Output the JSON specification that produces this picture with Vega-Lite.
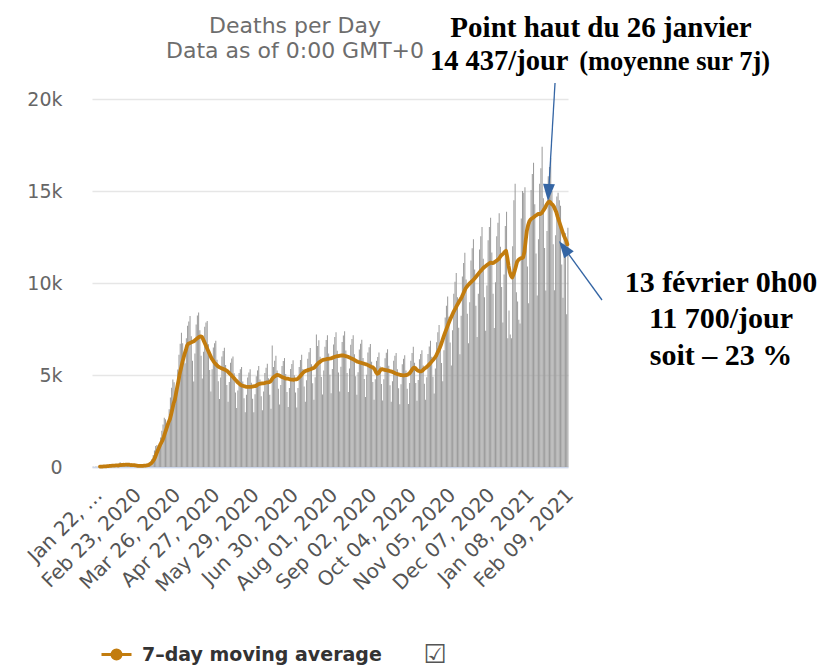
{
"$schema": "https://vega.github.io/schema/vega-lite/v6.json",
"width": 476, "height": 368,
"autosize": {"type": "none"},
"padding": {"left": 92, "top": 99, "right": 272, "bottom": 201},
"background": "white",
"config": {"view": {"stroke": null}, "font": "DejaVu Sans"},
"data": {"values": [
{"date":"2020-01-22","deaths":17,"avg":null},{"date":"2020-01-23","deaths":1,"avg":null},{"date":"2020-01-24","deaths":8,"avg":null},{"date":"2020-01-25","deaths":16,"avg":null},{"date":"2020-01-26","deaths":14,"avg":null},{"date":"2020-01-27","deaths":26,"avg":null},{"date":"2020-01-28","deaths":49,"avg":19},{"date":"2020-01-29","deaths":2,"avg":23},{"date":"2020-01-30","deaths":38,"avg":25},{"date":"2020-01-31","deaths":42,"avg":30},
{"date":"2020-02-01","deaths":46,"avg":32},{"date":"2020-02-02","deaths":103,"avg":37},{"date":"2020-02-03","deaths":64,"avg":46},{"date":"2020-02-04","deaths":66,"avg":53},{"date":"2020-02-05","deaths":72,"avg":60},{"date":"2020-02-06","deaths":70,"avg":66},{"date":"2020-02-07","deaths":85,"avg":73},{"date":"2020-02-08","deaths":87,"avg":76},{"date":"2020-02-09","deaths":100,"avg":80},{"date":"2020-02-10","deaths":107,"avg":85},{"date":"2020-02-11","deaths":100,"avg":90},{"date":"2020-02-12","deaths":5,"avg":78},{"date":"2020-02-13","deaths":253,"avg":102},{"date":"2020-02-14","deaths":152,"avg":108},{"date":"2020-02-15","deaths":143,"avg":116},{"date":"2020-02-16","deaths":104,"avg":121},{"date":"2020-02-17","deaths":98,"avg":120},{"date":"2020-02-18","deaths":139,"avg":125},{"date":"2020-02-19","deaths":115,"avg":127},{"date":"2020-02-20","deaths":125,"avg":124},{"date":"2020-02-21","deaths":4,"avg":122},{"date":"2020-02-22","deaths":207,"avg":99},{"date":"2020-02-23","deaths":11,"avg":108},{"date":"2020-02-24","deaths":160,"avg":97},{"date":"2020-02-25","deaths":80,"avg":103},{"date":"2020-02-26","deaths":56,"avg":82},{"date":"2020-02-27","deaths":43,"avg":72},{"date":"2020-02-28","deaths":62,"avg":62},{"date":"2020-02-29","deaths":57,"avg":57},
{"date":"2020-03-01","deaths":64,"avg":57},{"date":"2020-03-02","deaths":68,"avg":58},{"date":"2020-03-03","deaths":73,"avg":65},{"date":"2020-03-04","deaths":84,"avg":70},{"date":"2020-03-05","deaths":81,"avg":75},{"date":"2020-03-06","deaths":103,"avg":85},{"date":"2020-03-07","deaths":110,"avg":100},{"date":"2020-03-08","deaths":150,"avg":125},{"date":"2020-03-09","deaths":270,"avg":165},{"date":"2020-03-10","deaths":440,"avg":220},{"date":"2020-03-11","deaths":650,"avg":300},{"date":"2020-03-12","deaths":900,"avg":400},{"date":"2020-03-13","deaths":1140,"avg":540},{"date":"2020-03-14","deaths":1200,"avg":720},{"date":"2020-03-15","deaths":1140,"avg":880},{"date":"2020-03-16","deaths":1200,"avg":1040},{"date":"2020-03-17","deaths":1600,"avg":1200},{"date":"2020-03-18","deaths":1970,"avg":1330},{"date":"2020-03-19","deaths":2310,"avg":1450},{"date":"2020-03-20","deaths":2670,"avg":1640},{"date":"2020-03-21","deaths":2590,"avg":1850},{"date":"2020-03-22","deaths":2330,"avg":2050},{"date":"2020-03-23","deaths":2340,"avg":2250},{"date":"2020-03-24","deaths":3140,"avg":2450},{"date":"2020-03-25","deaths":3780,"avg":2600},{"date":"2020-03-26","deaths":4310,"avg":2850},{"date":"2020-03-27","deaths":4750,"avg":3150},{"date":"2020-03-28","deaths":4600,"avg":3450},{"date":"2020-03-29","deaths":4130,"avg":3650},{"date":"2020-03-30","deaths":4230,"avg":4000},{"date":"2020-03-31","deaths":5300,"avg":4350},
{"date":"2020-04-01","deaths":6100,"avg":4700},{"date":"2020-04-02","deaths":6700,"avg":5070},{"date":"2020-04-03","deaths":7290,"avg":5350},{"date":"2020-04-04","deaths":6720,"avg":5650},{"date":"2020-04-05","deaths":5730,"avg":5900},{"date":"2020-04-06","deaths":5640,"avg":6150},{"date":"2020-04-07","deaths":7000,"avg":6350},{"date":"2020-04-08","deaths":7680,"avg":6600},{"date":"2020-04-09","deaths":7910,"avg":6700},{"date":"2020-04-10","deaths":8210,"avg":6730},{"date":"2020-04-11","deaths":7100,"avg":6760},{"date":"2020-04-12","deaths":5770,"avg":6790},{"date":"2020-04-13","deaths":4640,"avg":6820},{"date":"2020-04-14","deaths":6170,"avg":6860},{"date":"2020-04-15","deaths":7750,"avg":6920},{"date":"2020-04-16","deaths":8240,"avg":6980},{"date":"2020-04-17","deaths":8400,"avg":7030},{"date":"2020-04-18","deaths":7430,"avg":7080},{"date":"2020-04-19","deaths":6040,"avg":7100},{"date":"2020-04-20","deaths":4810,"avg":7080},{"date":"2020-04-21","deaths":6260,"avg":6950},{"date":"2020-04-22","deaths":7620,"avg":6800},{"date":"2020-04-23","deaths":7850,"avg":6650},{"date":"2020-04-24","deaths":7930,"avg":6500},{"date":"2020-04-25","deaths":6670,"avg":6350},{"date":"2020-04-26","deaths":5270,"avg":6200},{"date":"2020-04-27","deaths":4110,"avg":6050},{"date":"2020-04-28","deaths":5310,"avg":5900},{"date":"2020-04-29","deaths":6500,"avg":5800},{"date":"2020-04-30","deaths":6730,"avg":5700},
{"date":"2020-05-01","deaths":6860,"avg":5620},{"date":"2020-05-02","deaths":5830,"avg":5550},{"date":"2020-05-03","deaths":4660,"avg":5480},{"date":"2020-05-04","deaths":3690,"avg":5430},{"date":"2020-05-05","deaths":4860,"avg":5400},{"date":"2020-05-06","deaths":6010,"avg":5370},{"date":"2020-05-07","deaths":6300,"avg":5340},{"date":"2020-05-08","deaths":6480,"avg":5310},{"date":"2020-05-09","deaths":5540,"avg":5280},{"date":"2020-05-10","deaths":4460,"avg":5250},{"date":"2020-05-11","deaths":3540,"avg":5200},{"date":"2020-05-12","deaths":4620,"avg":5130},{"date":"2020-05-13","deaths":5670,"avg":5060},{"date":"2020-05-14","deaths":5900,"avg":5000},{"date":"2020-05-15","deaths":6000,"avg":4920},{"date":"2020-05-16","deaths":5090,"avg":4850},{"date":"2020-05-17","deaths":4050,"avg":4770},{"date":"2020-05-18","deaths":3200,"avg":4700},{"date":"2020-05-19","deaths":4160,"avg":4620},{"date":"2020-05-20","deaths":5110,"avg":4560},{"date":"2020-05-21","deaths":5310,"avg":4500},{"date":"2020-05-22","deaths":5430,"avg":4450},{"date":"2020-05-23","deaths":4640,"avg":4420},{"date":"2020-05-24","deaths":3740,"avg":4400},{"date":"2020-05-25","deaths":2980,"avg":4380},{"date":"2020-05-26","deaths":3920,"avg":4360},{"date":"2020-05-27","deaths":4870,"avg":4350},{"date":"2020-05-28","deaths":5130,"avg":4350},{"date":"2020-05-29","deaths":5310,"avg":4350},{"date":"2020-05-30","deaths":4580,"avg":4360},{"date":"2020-05-31","deaths":3710,"avg":4370},
{"date":"2020-06-01","deaths":2980,"avg":4380},{"date":"2020-06-02","deaths":3950,"avg":4390},{"date":"2020-06-03","deaths":4930,"avg":4400},{"date":"2020-06-04","deaths":5250,"avg":4450},{"date":"2020-06-05","deaths":5490,"avg":4500},{"date":"2020-06-06","deaths":4750,"avg":4520},{"date":"2020-06-07","deaths":3850,"avg":4530},{"date":"2020-06-08","deaths":3090,"avg":4540},{"date":"2020-06-09","deaths":4100,"avg":4550},{"date":"2020-06-10","deaths":5110,"avg":4560},{"date":"2020-06-11","deaths":5400,"avg":4580},{"date":"2020-06-12","deaths":5610,"avg":4600},{"date":"2020-06-13","deaths":4830,"avg":4600},{"date":"2020-06-14","deaths":3920,"avg":4610},{"date":"2020-06-15","deaths":3160,"avg":4650},{"date":"2020-06-16","deaths":6600,"avg":4750},{"date":"2020-06-17","deaths":5430,"avg":4850},{"date":"2020-06-18","deaths":5780,"avg":4900},{"date":"2020-06-19","deaths":6040,"avg":4950},{"date":"2020-06-20","deaths":5250,"avg":5000},{"date":"2020-06-21","deaths":4250,"avg":5000},{"date":"2020-06-22","deaths":3390,"avg":4980},{"date":"2020-06-23","deaths":4460,"avg":4950},{"date":"2020-06-24","deaths":5490,"avg":4900},{"date":"2020-06-25","deaths":5760,"avg":4880},{"date":"2020-06-26","deaths":5920,"avg":4850},{"date":"2020-06-27","deaths":5060,"avg":4820},{"date":"2020-06-28","deaths":4080,"avg":4800},{"date":"2020-06-29","deaths":3260,"avg":4800},{"date":"2020-06-30","deaths":4300,"avg":4780},
{"date":"2020-07-01","deaths":5330,"avg":4760},{"date":"2020-07-02","deaths":5600,"avg":4750},{"date":"2020-07-03","deaths":5800,"avg":4750},{"date":"2020-07-04","deaths":4980,"avg":4740},{"date":"2020-07-05","deaths":4050,"avg":4760},{"date":"2020-07-06","deaths":3240,"avg":4760},{"date":"2020-07-07","deaths":4300,"avg":4780},{"date":"2020-07-08","deaths":5430,"avg":4850},{"date":"2020-07-09","deaths":5810,"avg":4920},{"date":"2020-07-10","deaths":6100,"avg":5000},{"date":"2020-07-11","deaths":5330,"avg":5080},{"date":"2020-07-12","deaths":4380,"avg":5150},{"date":"2020-07-13","deaths":3540,"avg":5200},{"date":"2020-07-14","deaths":4710,"avg":5230},{"date":"2020-07-15","deaths":5880,"avg":5250},{"date":"2020-07-16","deaths":6230,"avg":5280},{"date":"2020-07-17","deaths":6470,"avg":5300},{"date":"2020-07-18","deaths":5590,"avg":5320},{"date":"2020-07-19","deaths":4550,"avg":5350},{"date":"2020-07-20","deaths":3660,"avg":5380},{"date":"2020-07-21","deaths":4880,"avg":5420},{"date":"2020-07-22","deaths":7200,"avg":5500},{"date":"2020-07-23","deaths":6580,"avg":5580},{"date":"2020-07-24","deaths":6890,"avg":5650},{"date":"2020-07-25","deaths":5990,"avg":5700},{"date":"2020-07-26","deaths":4890,"avg":5750},{"date":"2020-07-27","deaths":3940,"avg":5800},{"date":"2020-07-28","deaths":5240,"avg":5820},{"date":"2020-07-29","deaths":6540,"avg":5840},{"date":"2020-07-30","deaths":6900,"avg":5850},{"date":"2020-07-31","deaths":7160,"avg":5870},
{"date":"2020-08-01","deaths":6170,"avg":5880},{"date":"2020-08-02","deaths":5010,"avg":5890},{"date":"2020-08-03","deaths":4010,"avg":5900},{"date":"2020-08-04","deaths":5330,"avg":5920},{"date":"2020-08-05","deaths":6660,"avg":5950},{"date":"2020-08-06","deaths":7060,"avg":5980},{"date":"2020-08-07","deaths":7320,"avg":6000},{"date":"2020-08-08","deaths":6320,"avg":6020},{"date":"2020-08-09","deaths":5130,"avg":6030},{"date":"2020-08-10","deaths":4110,"avg":6040},{"date":"2020-08-11","deaths":5450,"avg":6050},{"date":"2020-08-12","deaths":6790,"avg":6060},{"date":"2020-08-13","deaths":7150,"avg":6060},{"date":"2020-08-14","deaths":7380,"avg":6050},{"date":"2020-08-15","deaths":6330,"avg":6030},{"date":"2020-08-16","deaths":5110,"avg":6010},{"date":"2020-08-17","deaths":4070,"avg":5990},{"date":"2020-08-18","deaths":5360,"avg":5960},{"date":"2020-08-19","deaths":6640,"avg":5930},{"date":"2020-08-20","deaths":6960,"avg":5900},{"date":"2020-08-21","deaths":7160,"avg":5870},{"date":"2020-08-22","deaths":6130,"avg":5840},{"date":"2020-08-23","deaths":4930,"avg":5800},{"date":"2020-08-24","deaths":3920,"avg":5760},{"date":"2020-08-25","deaths":5150,"avg":5720},{"date":"2020-08-26","deaths":6380,"avg":5700},{"date":"2020-08-27","deaths":6700,"avg":5680},{"date":"2020-08-28","deaths":6910,"avg":5660},{"date":"2020-08-29","deaths":5920,"avg":5640},{"date":"2020-08-30","deaths":4780,"avg":5620},{"date":"2020-08-31","deaths":3810,"avg":5600},
{"date":"2020-09-01","deaths":5020,"avg":5580},{"date":"2020-09-02","deaths":6220,"avg":5550},{"date":"2020-09-03","deaths":6510,"avg":5520},{"date":"2020-09-04","deaths":6690,"avg":5480},{"date":"2020-09-05","deaths":5720,"avg":5450},{"date":"2020-09-06","deaths":4620,"avg":5430},{"date":"2020-09-07","deaths":3660,"avg":5380},{"date":"2020-09-08","deaths":4770,"avg":5300},{"date":"2020-09-09","deaths":5770,"avg":5150},{"date":"2020-09-10","deaths":5980,"avg":5070},{"date":"2020-09-11","deaths":6220,"avg":5100},{"date":"2020-09-12","deaths":5460,"avg":5200},{"date":"2020-09-13","deaths":4510,"avg":5300},{"date":"2020-09-14","deaths":3620,"avg":5320},{"date":"2020-09-15","deaths":4770,"avg":5300},{"date":"2020-09-16","deaths":5910,"avg":5280},{"date":"2020-09-17","deaths":6210,"avg":5260},{"date":"2020-09-18","deaths":6400,"avg":5250},{"date":"2020-09-19","deaths":5500,"avg":5240},{"date":"2020-09-20","deaths":4440,"avg":5220},{"date":"2020-09-21","deaths":3540,"avg":5200},{"date":"2020-09-22","deaths":4660,"avg":5180},{"date":"2020-09-23","deaths":5770,"avg":5150},{"date":"2020-09-24","deaths":6040,"avg":5120},{"date":"2020-09-25","deaths":6200,"avg":5080},{"date":"2020-09-26","deaths":5310,"avg":5060},{"date":"2020-09-27","deaths":4280,"avg":5040},{"date":"2020-09-28","deaths":3410,"avg":5020},{"date":"2020-09-29","deaths":4500,"avg":5000},{"date":"2020-09-30","deaths":5590,"avg":4990},
{"date":"2020-10-01","deaths":5880,"avg":4980},{"date":"2020-10-02","deaths":6080,"avg":4980},{"date":"2020-10-03","deaths":5240,"avg":4990},{"date":"2020-10-04","deaths":4250,"avg":5000},{"date":"2020-10-05","deaths":3420,"avg":5030},{"date":"2020-10-06","deaths":4560,"avg":5070},{"date":"2020-10-07","deaths":5770,"avg":5150},{"date":"2020-10-08","deaths":6200,"avg":5250},{"date":"2020-10-09","deaths":6530,"avg":5350},{"date":"2020-10-10","deaths":5670,"avg":5400},{"date":"2020-10-11","deaths":4570,"avg":5380},{"date":"2020-10-12","deaths":3600,"avg":5300},{"date":"2020-10-13","deaths":4730,"avg":5250},{"date":"2020-10-14","deaths":5850,"avg":5220},{"date":"2020-10-15","deaths":6140,"avg":5200},{"date":"2020-10-16","deaths":6340,"avg":5200},{"date":"2020-10-17","deaths":5510,"avg":5250},{"date":"2020-10-18","deaths":4520,"avg":5320},{"date":"2020-10-19","deaths":3660,"avg":5380},{"date":"2020-10-20","deaths":4880,"avg":5420},{"date":"2020-10-21","deaths":6140,"avg":5480},{"date":"2020-10-22","deaths":6550,"avg":5550},{"date":"2020-10-23","deaths":6860,"avg":5620},{"date":"2020-10-24","deaths":5990,"avg":5700},{"date":"2020-10-25","deaths":4910,"avg":5780},{"date":"2020-10-26","deaths":3990,"avg":5860},{"date":"2020-10-27","deaths":5360,"avg":5950},{"date":"2020-10-28","deaths":6780,"avg":6050},{"date":"2020-10-29","deaths":7320,"avg":6200},{"date":"2020-10-30","deaths":7720,"avg":6330},{"date":"2020-10-31","deaths":6800,"avg":6480},
{"date":"2020-11-01","deaths":5650,"avg":6650},{"date":"2020-11-02","deaths":4660,"avg":6850},{"date":"2020-11-03","deaths":6350,"avg":7060},{"date":"2020-11-04","deaths":8120,"avg":7250},{"date":"2020-11-05","deaths":8770,"avg":7430},{"date":"2020-11-06","deaths":9270,"avg":7600},{"date":"2020-11-07","deaths":8170,"avg":7780},{"date":"2020-11-08","deaths":6760,"avg":7950},{"date":"2020-11-09","deaths":5510,"avg":8100},{"date":"2020-11-10","deaths":7430,"avg":8250},{"date":"2020-11-11","deaths":9410,"avg":8400},{"date":"2020-11-12","deaths":10070,"avg":8530},{"date":"2020-11-13","deaths":10550,"avg":8650},{"date":"2020-11-14","deaths":9220,"avg":8780},{"date":"2020-11-15","deaths":7570,"avg":8900},{"date":"2020-11-16","deaths":6130,"avg":9020},{"date":"2020-11-17","deaths":8220,"avg":9130},{"date":"2020-11-18","deaths":10360,"avg":9250},{"date":"2020-11-19","deaths":11090,"avg":9400},{"date":"2020-11-20","deaths":11650,"avg":9550},{"date":"2020-11-21","deaths":10190,"avg":9700},{"date":"2020-11-22","deaths":8330,"avg":9800},{"date":"2020-11-23","deaths":6720,"avg":9880},{"date":"2020-11-24","deaths":8960,"avg":9950},{"date":"2020-11-25","deaths":11220,"avg":10020},{"date":"2020-11-26","deaths":11890,"avg":10080},{"date":"2020-11-27","deaths":12380,"avg":10150},{"date":"2020-11-28","deaths":10730,"avg":10220},{"date":"2020-11-29","deaths":8760,"avg":10300},{"date":"2020-11-30","deaths":7060,"avg":10380},
{"date":"2020-12-01","deaths":9410,"avg":10460},{"date":"2020-12-02","deaths":11820,"avg":10550},{"date":"2020-12-03","deaths":12540,"avg":10630},{"date":"2020-12-04","deaths":13050,"avg":10700},{"date":"2020-12-05","deaths":11320,"avg":10780},{"date":"2020-12-06","deaths":9220,"avg":10850},{"date":"2020-12-07","deaths":7410,"avg":10900},{"date":"2020-12-08","deaths":9860,"avg":10950},{"date":"2020-12-09","deaths":12320,"avg":11000},{"date":"2020-12-10","deaths":13040,"avg":11050},{"date":"2020-12-11","deaths":13540,"avg":11100},{"date":"2020-12-12","deaths":11660,"avg":11100},{"date":"2020-12-13","deaths":9420,"avg":11080},{"date":"2020-12-14","deaths":7550,"avg":11100},{"date":"2020-12-15","deaths":10040,"avg":11150},{"date":"2020-12-16","deaths":12540,"avg":11200},{"date":"2020-12-17","deaths":13280,"avg":11250},{"date":"2020-12-18","deaths":13790,"avg":11300},{"date":"2020-12-19","deaths":11970,"avg":11400},{"date":"2020-12-20","deaths":9780,"avg":11500},{"date":"2020-12-21","deaths":7850,"avg":11550},{"date":"2020-12-22","deaths":10460,"avg":11620},{"date":"2020-12-23","deaths":13100,"avg":11700},{"date":"2020-12-24","deaths":13870,"avg":11750},{"date":"2020-12-25","deaths":7000,"avg":11400},{"date":"2020-12-26","deaths":8500,"avg":10950},{"date":"2020-12-27","deaths":7200,"avg":10600},{"date":"2020-12-28","deaths":7000,"avg":10400},{"date":"2020-12-29","deaths":12000,"avg":10300},{"date":"2020-12-30","deaths":14500,"avg":10450},{"date":"2020-12-31","deaths":15400,"avg":10650},
{"date":"2021-01-01","deaths":9500,"avg":10900},{"date":"2021-01-02","deaths":9000,"avg":11150},{"date":"2021-01-03","deaths":8000,"avg":11250},{"date":"2021-01-04","deaths":7800,"avg":11300},{"date":"2021-01-05","deaths":13500,"avg":11350},{"date":"2021-01-06","deaths":15000,"avg":11350},{"date":"2021-01-07","deaths":14900,"avg":11400},{"date":"2021-01-08","deaths":15200,"avg":11700},{"date":"2021-01-09","deaths":12900,"avg":12300},{"date":"2021-01-10","deaths":10900,"avg":12850},{"date":"2021-01-11","deaths":8900,"avg":13150},{"date":"2021-01-12","deaths":13500,"avg":13350},{"date":"2021-01-13","deaths":15060,"avg":13450},{"date":"2021-01-14","deaths":15930,"avg":13500},{"date":"2021-01-15","deaths":16530,"avg":13550},{"date":"2021-01-16","deaths":14280,"avg":13600},{"date":"2021-01-17","deaths":11600,"avg":13650},{"date":"2021-01-18","deaths":9320,"avg":13700},{"date":"2021-01-19","deaths":12380,"avg":13750},{"date":"2021-01-20","deaths":15400,"avg":13750},{"date":"2021-01-21","deaths":16230,"avg":13750},{"date":"2021-01-22","deaths":17400,"avg":13800},{"date":"2021-01-23","deaths":14600,"avg":13900},{"date":"2021-01-24","deaths":11900,"avg":14000},{"date":"2021-01-25","deaths":9590,"avg":14100},{"date":"2021-01-26","deaths":12830,"avg":14250},{"date":"2021-01-27","deaths":15800,"avg":14350},{"date":"2021-01-28","deaths":16300,"avg":14437},{"date":"2021-01-29","deaths":16800,"avg":14400},{"date":"2021-01-30","deaths":15000,"avg":14300},{"date":"2021-01-31","deaths":12100,"avg":14250},
{"date":"2021-02-01","deaths":9600,"avg":14150},{"date":"2021-02-02","deaths":12600,"avg":14000},{"date":"2021-02-03","deaths":14700,"avg":13850},{"date":"2021-02-04","deaths":14900,"avg":13600},{"date":"2021-02-05","deaths":14500,"avg":13400},{"date":"2021-02-06","deaths":14200,"avg":13200},{"date":"2021-02-07","deaths":11000,"avg":13000},{"date":"2021-02-08","deaths":9200,"avg":12800},{"date":"2021-02-09","deaths":12500,"avg":12600},{"date":"2021-02-10","deaths":12700,"avg":12450},{"date":"2021-02-11","deaths":8300,"avg":12300},{"date":"2021-02-12","deaths":13000,"avg":12100}
]},
"layer": [
{"mark": {"type": "bar", "color": "#9c9c9c", "binSpacing": 0.2},
 "encoding": {
  "x": {"field": "date", "type": "temporal", "timeUnit": "utcyearmonthdate", "title": null,
        "scale": {"type": "utc", "domain": [{"year":2020,"month":1,"date":22,"utc":true},{"year":2021,"month":2,"date":13,"utc":true}]},
        "axis": {"labels": false, "ticks": false, "grid": false, "domainColor": "#ccd6eb", "domainWidth": 1.5}},
  "y": {"field": "deaths", "type": "quantitative", "title": null,
        "scale": {"domain": [0, 20000], "nice": false},
        "axis": {"values": [0, 5000, 10000, 15000, 20000],
          "labelExpr": "datum.value == 0 ? '0' : (datum.value / 1000) + 'k'",
          "domain": false, "ticks": false, "labelPadding": 30,
          "labelFont": "DejaVu Sans", "labelFontSize": 19, "labelColor": "#666666",
          "gridColor": "#e6e6e6", "gridWidth": 1.5}}
 }},
{"mark": {"type": "line", "strokeWidth": 3.8, "strokeJoin": "round", "strokeCap": "round"},
 "encoding": {
  "x": {"field": "date", "type": "temporal", "timeUnit": "utcyearmonthdate", "bandPosition": 0.5, "title": null,
        "scale": {"type": "utc", "domain": [{"year":2020,"month":1,"date":22,"utc":true},{"year":2021,"month":2,"date":13,"utc":true}]}},
  "y": {"field": "avg", "type": "quantitative", "title": null, "scale": {"domain": [0, 20000], "nice": false}},
  "color": {"datum": "7–day moving average", "type": "nominal", "scale": {"range": ["#c27c0e"]},
    "legend": {"title": null, "orient": "none", "legendX": 8, "legendY": 539, "labelLimit": 500,
      "symbolType": "M -1 0 L 1 0 M -0.3 0 A 0.3 0.3 0 1 0 0.3 0 A 0.3 0.3 0 1 0 -0.3 0 Z",
      "symbolSize": 900, "symbolStrokeWidth": 3, "symbolFillColor": "#c27c0e", "symbolStrokeColor": "#c27c0e",
      "labelFont": "DejaVu Sans", "labelFontSize": 19, "labelFontWeight": "bold", "labelColor": "#333333", "labelOffset": 9,
      "encode": {"symbols": {"update": {"fill": {"value": "#c27c0e"}, "stroke": {"value": "#c27c0e"}, "strokeWidth": {"value": 3}}}}}}
 }},
{"data": {"values": [{"date":"2020-01-22","label":"Jan 22, …"},{"date":"2020-02-23","label":"Feb 23, 2020"},{"date":"2020-03-26","label":"Mar 26, 2020"},{"date":"2020-04-27","label":"Apr 27, 2020"},{"date":"2020-05-29","label":"May 29, 2020"},{"date":"2020-06-30","label":"Jun 30, 2020"},{"date":"2020-08-01","label":"Aug 01, 2020"},{"date":"2020-09-02","label":"Sep 02, 2020"},{"date":"2020-10-04","label":"Oct 04, 2020"},{"date":"2020-11-05","label":"Nov 05, 2020"},{"date":"2020-12-07","label":"Dec 07, 2020"},{"date":"2021-01-08","label":"Jan 08, 2021"},{"date":"2021-02-09","label":"Feb 09, 2021"}]},
 "mark": {"type": "text", "font": "DejaVu Sans", "fontSize": 20, "color": "#555555", "align": "right", "baseline": "top", "angle": -45},
 "encoding": {
  "x": {"field": "date", "type": "temporal", "title": null, "scale": {"type": "utc", "domain": [{"year":2020,"month":1,"date":22,"utc":true},{"year":2021,"month":2,"date":13,"utc":true}]}},
  "y": {"datum": -980, "type": "quantitative", "title": null, "scale": {"domain": [0, 20000], "nice": false}},
  "text": {"field": "label"}}},
{"data": {"values": [{"date":"2020-07-05T12:00:00Z","value":23587,"label":"Deaths per Day"},{"date":"2020-07-05T12:00:00Z","value":22228,"label":"Data as of 0:00 GMT+0"}]},
 "mark": {"type": "text", "font": "DejaVu Sans", "fontSize": 22, "color": "#6d6d6d", "align": "center", "baseline": "alphabetic"},
 "encoding": {
  "x": {"field": "date", "type": "temporal", "title": null, "scale": {"type": "utc", "domain": [{"year":2020,"month":1,"date":22,"utc":true},{"year":2021,"month":2,"date":13,"utc":true}]}},
  "y": {"field": "value", "type": "quantitative", "title": null, "scale": {"domain": [0, 20000], "nice": false}},
  "text": {"field": "label"}}},
{"data": {"values": [{"date":"2021-03-11T22:00:00Z","value":23386,"label":"Point haut du 26 janvier"}]},
 "mark": {"type": "text", "font": "Liberation Serif", "fontWeight": "bold", "fontSize": 29, "color": "black", "align": "center", "baseline": "alphabetic"},
 "encoding": {
  "x": {"field": "date", "type": "temporal", "title": null, "scale": {"type": "utc", "domain": [{"year":2020,"month":1,"date":22,"utc":true},{"year":2021,"month":2,"date":13,"utc":true}]}},
  "y": {"field": "value", "type": "quantitative", "title": null, "scale": {"domain": [0, 20000], "nice": false}},
  "text": {"field": "label"}}},
{"data": {"values": [{"date":"2020-10-23T12:00:00Z","value":21576,"label":"14 437/jour"}]},
 "mark": {"type": "text", "font": "Liberation Serif", "fontWeight": "bold", "fontSize": 28.5, "color": "black", "align": "left", "baseline": "alphabetic"},
 "encoding": {
  "x": {"field": "date", "type": "temporal", "title": null, "scale": {"type": "utc", "domain": [{"year":2020,"month":1,"date":22,"utc":true},{"year":2021,"month":2,"date":13,"utc":true}]}},
  "y": {"field": "value", "type": "quantitative", "title": null, "scale": {"domain": [0, 20000], "nice": false}},
  "text": {"field": "label"}}},
{"data": {"values": [{"date":"2021-07-27T17:00:00Z","value":21576,"label":"(moyenne sur 7j)"}]},
 "mark": {"type": "text", "font": "Liberation Serif", "fontWeight": "bold", "fontSize": 26.5, "color": "black", "align": "right", "baseline": "alphabetic"},
 "encoding": {
  "x": {"field": "date", "type": "temporal", "title": null, "scale": {"type": "utc", "domain": [{"year":2020,"month":1,"date":22,"utc":true},{"year":2021,"month":2,"date":13,"utc":true}]}},
  "y": {"field": "value", "type": "quantitative", "title": null, "scale": {"domain": [0, 20000], "nice": false}},
  "text": {"field": "label"}}},
{"data": {"values": [{"date":"2021-06-17T17:00:00Z","value":9527,"label":"13 février 0h00"},{"date":"2021-06-17T17:00:00Z","value":7554,"label":"11 700/jour"},{"date":"2021-06-17T17:00:00Z","value":5543,"label":"soit – 23 %"}]},
 "mark": {"type": "text", "font": "Liberation Serif", "fontWeight": "bold", "fontSize": 30, "color": "black", "align": "center", "baseline": "alphabetic"},
 "encoding": {
  "x": {"field": "date", "type": "temporal", "title": null, "scale": {"type": "utc", "domain": [{"year":2020,"month":1,"date":22,"utc":true},{"year":2021,"month":2,"date":13,"utc":true}]}},
  "y": {"field": "value", "type": "quantitative", "title": null, "scale": {"domain": [0, 20000], "nice": false}},
  "text": {"field": "label"}}},
{"data": {"values": [{"date":"2021-02-02T10:00:00Z","value":20870,"date2":"2021-01-28T12:00:00Z","value2":15272},{"date":"2021-03-12T17:00:00Z","value":9076,"date2":"2021-02-10T05:00:00Z","value2":11875}]},
 "mark": {"type": "rule", "color": "#3465a4", "strokeWidth": 1.3},
 "encoding": {
  "x": {"field": "date", "type": "temporal", "title": null, "scale": {"type": "utc", "domain": [{"year":2020,"month":1,"date":22,"utc":true},{"year":2021,"month":2,"date":13,"utc":true}]}},
  "y": {"field": "value", "type": "quantitative", "title": null, "scale": {"domain": [0, 20000], "nice": false}},
  "x2": {"field": "date2"},
  "y2": {"field": "value2"}}},
{"data": {"values": [{"date":"2021-01-28T02:00:00Z","value":14919}]},
 "mark": {"type": "point", "shape": "M -0.7 -1 L 0.7 -1 L 0 1 Z", "size": 289, "filled": true, "color": "#3465a4", "opacity": 1, "angle": 3.4},
 "encoding": {
  "x": {"field": "date", "type": "temporal", "title": null, "scale": {"type": "utc", "domain": [{"year":2020,"month":1,"date":22,"utc":true},{"year":2021,"month":2,"date":13,"utc":true}]}},
  "y": {"field": "value", "type": "quantitative", "title": null, "scale": {"domain": [0, 20000], "nice": false}}}},
{"data": {"values": [{"date":"2021-02-09T17:00:00Z","value":11908}]},
 "mark": {"type": "point", "shape": "M -0.7 -1 L 0.7 -1 L 0 1 Z", "size": 289, "filled": true, "color": "#3465a4", "opacity": 1, "angle": 143.9},
 "encoding": {
  "x": {"field": "date", "type": "temporal", "title": null, "scale": {"type": "utc", "domain": [{"year":2020,"month":1,"date":22,"utc":true},{"year":2021,"month":2,"date":13,"utc":true}]}},
  "y": {"field": "value", "type": "quantitative", "title": null, "scale": {"domain": [0, 20000], "nice": false}}}},
{"data": {"values": [{"date":"2020-10-27T14:00:00Z","value":-10217,"label":"☑"}]},
 "mark": {"type": "text", "font": "DejaVu Sans", "fontSize": 26, "color": "#555555", "align": "center", "baseline": "middle"},
 "encoding": {
  "x": {"field": "date", "type": "temporal", "title": null, "scale": {"type": "utc", "domain": [{"year":2020,"month":1,"date":22,"utc":true},{"year":2021,"month":2,"date":13,"utc":true}]}},
  "y": {"field": "value", "type": "quantitative", "title": null, "scale": {"domain": [0, 20000], "nice": false}},
  "text": {"field": "label"}}}
]
}
